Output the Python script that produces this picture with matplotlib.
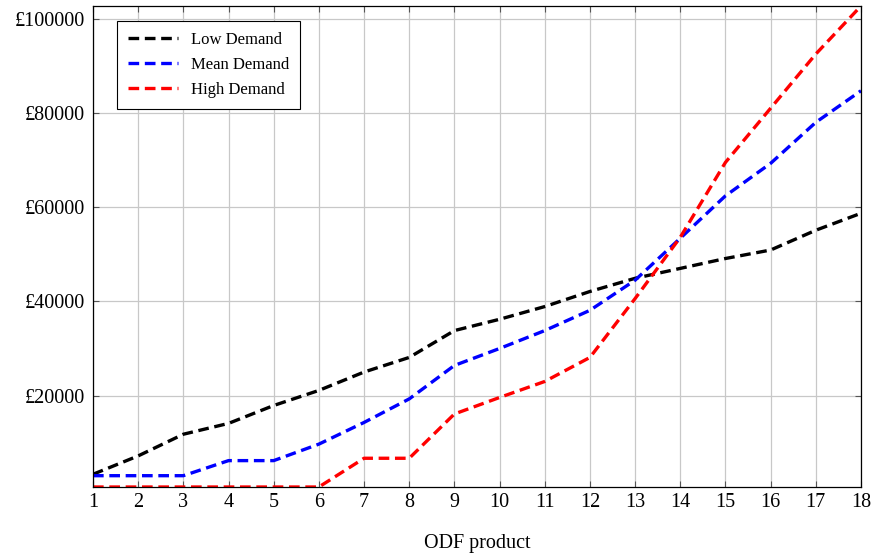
import matplotlib
matplotlib.use("Agg")
import matplotlib.pyplot as plt

products = list(range(1, 19))
low_demand = [3300, 7200, 11800, 14100, 17900, 21100, 25000, 28100, 33800, 36200,
              38900, 42100, 44900, 47000, 49100, 50900, 55100, 58700]
mean_demand = [3000, 3000, 3000, 6200, 6200, 9700, 14300, 19300, 26400, 30000,
               33800, 38100, 44500, 53400, 62400, 69300, 78000, 84700]
high_demand = [600, 600, 600, 600, 600, 600, 6700, 6700, 16100, 19600,
               23000, 28100, 40600, 53600, 69500, 81000, 92500, 102700]
y_ticks = [20000, 40000, 60000, 80000, 100000]
y_tick_labels = ["£20000", "£40000", "£60000", "£80000", "£100000"]

plt.rcParams['font.family'] = ['Liberation Serif', 'DejaVu Serif']

fig = plt.figure(figsize=(8.74, 5.59), dpi=100)
ax = fig.add_axes([0.1064, 0.1288, 0.8787, 0.8605])

lw = 2.4
dash = (3.2, 1.7)
ax.plot(products, low_demand, color='black', lw=lw, dashes=dash, label='Low Demand')
ax.plot(products, mean_demand, color='blue', lw=lw, dashes=dash, label='Mean Demand')
ax.plot(products, high_demand, color='red', lw=lw, dashes=dash, label='High Demand')

ax.set_xlim(1, 18)
ax.set_ylim(min(high_demand), max(high_demand))
ax.set_xticks(products)
ax.set_yticks(y_ticks)
ax.set_yticklabels(y_tick_labels)
ax.tick_params(axis='both', direction='in', top=True, right=True, length=4,
               color='#555555', labelsize=14.5)
ax.tick_params(axis='y', pad=6)
ax.tick_params(axis='x', pad=4)
ax.grid(True, color='#c8c8c8', lw=0.9)
ax.set_axisbelow(True)
for s in ax.spines.values():
    s.set_linewidth(0.9)
ax.set_xlabel('ODF product', fontsize=14.5, labelpad=16)

leg = ax.legend(loc='upper left', bbox_to_anchor=(0.031, 0.969), borderaxespad=0,
                fontsize=12, fancybox=False, edgecolor='black', framealpha=1,
                handlelength=3.0, borderpad=0.65, labelspacing=0.55)
leg.get_frame().set_linewidth(0.8)

fig.savefig('out.png', dpi=100)
